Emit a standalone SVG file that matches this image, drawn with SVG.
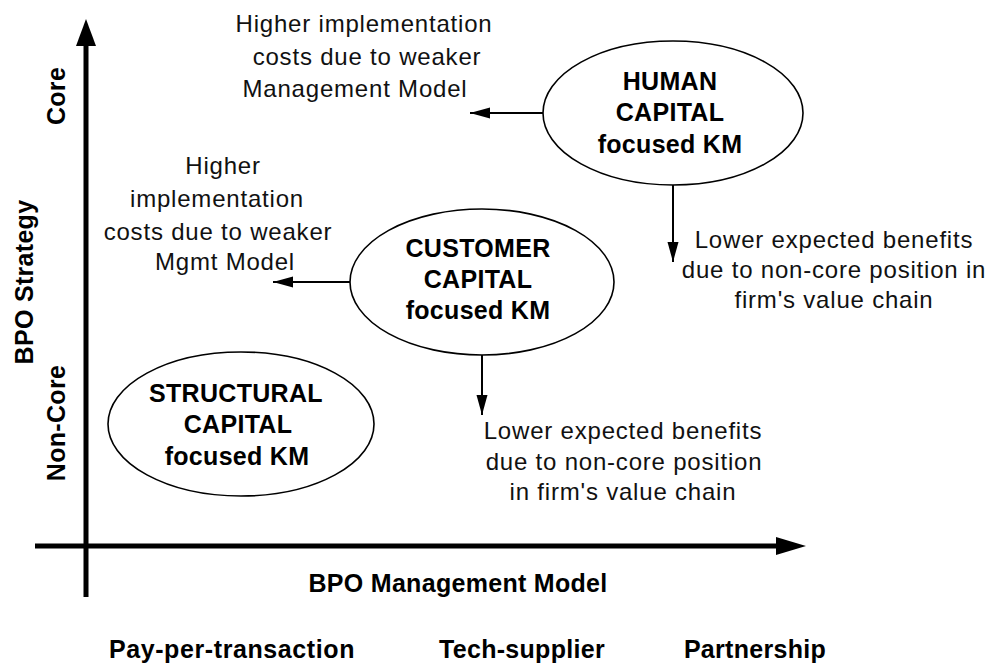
<svg xmlns="http://www.w3.org/2000/svg" width="992" height="667" viewBox="0 0 992 667">
  <style>
    .bg { fill: #ffffff; }
    .axis { stroke: #000; stroke-width: 5; fill: none; }
    .axis-head { fill: #000; }
    .link { stroke: #000; stroke-width: 2; fill: none; }
    .node { fill: #fff; stroke: #000; stroke-width: 1.6; }
    .bold { font-family: "Liberation Sans", Arial, sans-serif; font-weight: bold; font-size: 25px; letter-spacing: 0.3px; fill: #000; text-anchor: middle; }
    .note { font-family: "Liberation Sans", Arial, sans-serif; font-size: 24px; letter-spacing: 0.8px; fill: #111; text-anchor: middle; }
  </style>
  <defs>
    <marker id="arrow" viewBox="0 0 20 12" markerWidth="20" markerHeight="12" refX="20" refY="6" orient="auto" markerUnits="userSpaceOnUse">
      <path d="M0,0.5 L20,6 L0,11.5 z" fill="#000"/>
    </marker>
  </defs>

  <rect class="bg" x="0" y="0" width="992" height="667"/>

  <!-- axes -->
  <g id="axes">
    <line class="axis" x1="86" y1="597" x2="86" y2="42"/>
    <polygon class="axis-head" points="76,46 96,46 86,19"/>
    <line class="axis" x1="35" y1="546" x2="780" y2="546"/>
    <polygon class="axis-head" points="776,537 776,555 806,546"/>
  </g>

  <!-- axis labels -->
  <g id="axis-labels">
    <text class="bold" transform="translate(33,282) rotate(-90)">BPO Strategy</text>
    <text class="bold" transform="translate(65,96) rotate(-90)">Core</text>
    <text class="bold" transform="translate(65,423) rotate(-90)">Non-Core</text>
    <text class="bold" x="458" y="592">BPO Management Model</text>
    <text class="bold" x="232" y="658" style="letter-spacing:0.6px">Pay-per-transaction</text>
    <text class="bold" x="522" y="658">Tech-supplier</text>
    <text class="bold" x="755" y="658">Partnership</text>
  </g>

  <!-- connectors -->
  <g id="connectors">
    <line class="link" x1="543" y1="113" x2="470" y2="113" marker-end="url(#arrow)"/>
    <line class="link" x1="673" y1="185" x2="673" y2="262" marker-end="url(#arrow)"/>
    <line class="link" x1="350" y1="282" x2="273" y2="282" marker-end="url(#arrow)"/>
    <line class="link" x1="482" y1="355" x2="482" y2="415" marker-end="url(#arrow)"/>
  </g>

  <!-- knowledge management nodes -->
  <g id="human-capital">
    <ellipse class="node" cx="673" cy="113" rx="130" ry="72"/>
    <text class="bold" x="670" y="90">HUMAN</text>
    <text class="bold" x="670" y="121">CAPITAL</text>
    <text class="bold" x="670" y="153">focused KM</text>
  </g>

  <g id="customer-capital">
    <ellipse class="node" cx="482" cy="282" rx="132" ry="73"/>
    <text class="bold" x="478" y="257">CUSTOMER</text>
    <text class="bold" x="478" y="288">CAPITAL</text>
    <text class="bold" x="478" y="319">focused KM</text>
  </g>

  <g id="structural-capital">
    <ellipse class="node" cx="241" cy="424" rx="133" ry="72"/>
    <text class="bold" x="236" y="402">STRUCTURAL</text>
    <text class="bold" x="238" y="433">CAPITAL</text>
    <text class="bold" x="237" y="465">focused KM</text>
  </g>

  <!-- consequence notes -->
  <g id="note-human-cost">
    <text class="note" x="364" y="32">Higher implementation</text>
    <text class="note" x="367" y="65">costs due to weaker</text>
    <text class="note" x="355" y="97">Management Model</text>
  </g>

  <g id="note-human-benefit">
    <text class="note" x="834" y="248">Lower expected benefits</text>
    <text class="note" x="834" y="278">due to non-core position in</text>
    <text class="note" x="834" y="308">firm's value chain</text>
  </g>

  <g id="note-customer-cost">
    <text class="note" x="223" y="174">Higher</text>
    <text class="note" x="217" y="207">implementation</text>
    <text class="note" x="218" y="240">costs due to weaker</text>
    <text class="note" x="225" y="270">Mgmt Model</text>
  </g>

  <g id="note-customer-benefit">
    <text class="note" x="623" y="439">Lower expected benefits</text>
    <text class="note" x="624" y="470">due to non-core position</text>
    <text class="note" x="623" y="500">in firm's value chain</text>
  </g>
</svg>
